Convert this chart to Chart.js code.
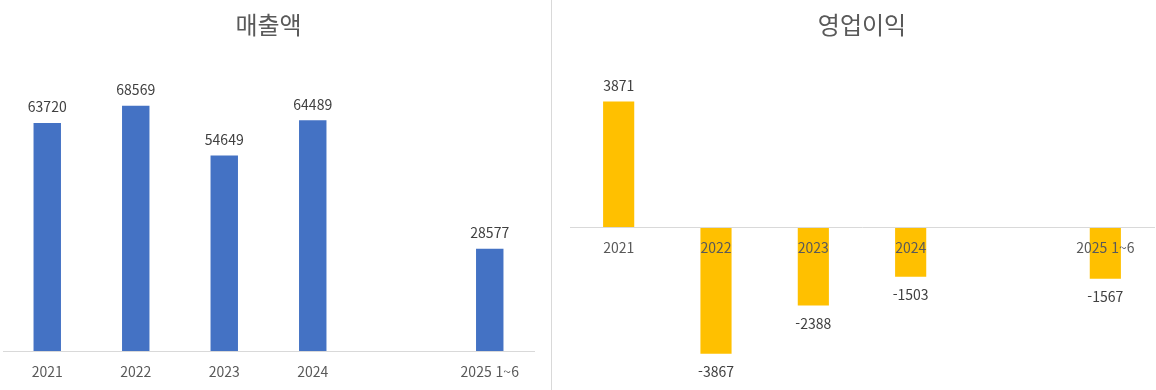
<!DOCTYPE html>
<html lang="ko">
<head>
<meta charset="utf-8">
<script src="https://cdn.jsdelivr.net/npm/chart.js@4.4.0/dist/chart.umd.min.js"></script>
<style>
  body { margin: 0; background: #fff; }
  .wrap { display: flex; width: 1156px; height: 390px; }
  .divider { width: 1px; height: 390px; background: #d9d9d9; }
  canvas { display: block; }
</style>
</head>
<body>
<div class="wrap">
  <canvas id="salesChart" width="551" height="390"></canvas>
  <div class="divider"></div>
  <canvas id="profitChart" width="604" height="390"></canvas>
</div>
<script>
// 데이터
const categories = ['2021', '2022', '2023', '2024', '', '2025 1~6'];
const salesValues = [63720, 68569, 54649, 64489, null, 28577];
const profitValues = [3871, -3867, -2388, -1503, null, -1567];
const salesTitle = '매출액';
const profitTitle = '영업이익';

Chart.defaults.font.family = "'Noto Sans CJK KR', 'Noto Sans', sans-serif";

// 막대 위/아래 값 표시
const valueLabels = {
    id: 'valueLabels',
    afterDatasetsDraw(chart) {
        const ctx = chart.ctx;
        const ds = chart.data.datasets[0];
        const meta = chart.getDatasetMeta(0);
        ctx.save();
        ctx.font = "14px 'Noto Sans CJK KR', 'Noto Sans', sans-serif";
        ctx.fillStyle = '#404040';
        ctx.textAlign = 'center';
        ctx.textBaseline = 'middle';
        meta.data.forEach((bar, i) => {
            const v = ds.data[i];
            if (v === null) return;
            const y = v >= 0 ? bar.y - 16 : bar.y + 18;
            ctx.fillText(String(v), bar.x, y);
        });
        ctx.restore();
    }
};

function titleOpts(text) {
    return {
        display: true,
        text: text,
        color: '#595959',
        font: { size: 24, weight: 'normal' },
        padding: { top: 10, bottom: 26 }
    };
}

// 매출액
new Chart(document.getElementById('salesChart'), {
    type: 'bar',
    data: {
        labels: categories,
        datasets: [{
            data: salesValues,
            backgroundColor: '#4472C4',
            categoryPercentage: 1,
            barPercentage: 0.31
        }]
    },
    options: {
        responsive: false,
        animation: false,
        layout: { padding: { left: 3, right: 17, top: 0, bottom: 0 } },
        plugins: {
            legend: { display: false },
            tooltip: { enabled: false },
            title: titleOpts(salesTitle)
        },
        scales: {
            x: {
                grid: { display: false, drawTicks: false },
                border: { color: '#d9d9d9' },
                ticks: { color: '#595959', font: { size: 14 }, padding: 12, maxRotation: 0, autoSkip: false },
                afterFit: scale => { scale.height = 39; }
            },
            y: { display: false, min: 0, max: 80000 }
        }
    },
    plugins: [valueLabels]
});

// 영업이익 (축 라벨은 0 위치, 막대 위에 그림)
new Chart(document.getElementById('profitChart'), {
    type: 'bar',
    data: {
        labels: categories,
        datasets: [{
            data: profitValues,
            backgroundColor: '#FFC000',
            categoryPercentage: 1,
            barPercentage: 0.32
        }]
    },
    options: {
        responsive: false,
        animation: false,
        layout: { padding: { left: 18, right: 2, top: 0, bottom: 32 } },
        plugins: {
            legend: { display: false },
            tooltip: { enabled: false },
            title: titleOpts(profitTitle)
        },
        scales: {
            x: {
                position: { y: 0 },
                grid: { display: false, drawTicks: false },
                border: { color: '#d9d9d9', z: 1 },
                ticks: { color: '#595959', font: { size: 14 }, padding: 12, maxRotation: 0, autoSkip: false, z: 1 }
            },
            y: { display: false, min: -4000, max: 5000 }
        }
    },
    plugins: [valueLabels]
});
</script>
</body>
</html>
